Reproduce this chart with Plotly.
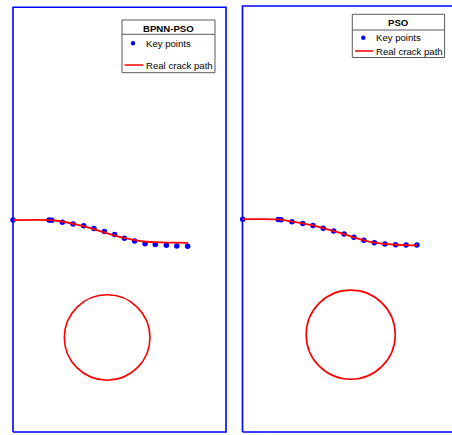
import plotly.graph_objects as go

W, H = 452, 435

# ---------------- data (plate units: width 100, height 200) ----------------
plate_x = [0, 100, 100, 0, 0]
plate_y = [0, 0, 200, 200, 0]

# BPNN-PSO panel
bp_key_x = [0, 16.9, 18.2, 23.2, 28.2, 33.2, 38.0, 42.9, 47.7, 52.3, 57.1, 62.0, 66.8, 72.0, 76.9, 82.0]
bp_key_y = [99.8, 99.8, 99.7, 98.8, 98.0, 97.1, 95.8, 94.4, 93.0, 91.2, 90.0, 88.7, 88.3, 88.0, 87.6, 87.5]
bp_path_x = [0, 16.9, 19.7, 24.4, 29.1, 33.8, 38.5, 43.2, 47.9, 52.6, 57.3, 62.0, 66.7, 71.4, 76.1, 82.2]
bp_path_y = [99.8, 99.8, 99.6, 98.9, 97.9, 96.7, 95.3, 93.9, 92.5, 91.3, 90.4, 89.7, 89.4, 89.2, 89.2, 89.1]
bp_hole = [44.2, 44.5, 20.1]   # centre x, centre y, radius

# PSO panel
pso_key_x = [0.1, 16.8, 18.1, 23.2, 28.3, 33.1, 37.9, 42.8, 47.7, 52.3, 57.0, 61.9, 66.9, 71.9, 76.8, 81.9]
pso_key_y = [99.9, 99.8, 99.6, 98.7, 97.9, 97.0, 95.7, 94.4, 93.0, 91.4, 90.0, 88.9, 88.3, 87.9, 87.8, 87.8]
pso_path_x = [0, 16.8, 23.2, 28.3, 33.1, 37.9, 42.8, 47.7, 52.3, 57.0, 61.9, 66.9, 71.9, 76.8, 82.0]
pso_path_y = [99.9, 99.8, 98.8, 97.9, 97.0, 95.7, 94.3, 92.9, 91.4, 90.0, 88.9, 88.3, 87.9, 87.7, 87.6]
pso_hole = [50.8, 45.7, 20.9]

panel_titles = ["BPNN-PSO", "PSO"]
legend_labels = ["Key points", "Real crack path"]

BLUE = "#0000FF"
RED = "#FF0000"
FONT = "Arial, Liberation Sans, sans-serif"
FS = 9.6

split = 234  # px where the two subplot domains meet


def px(x):
    return x / W


def py(y):
    return 1 - y / H


def axis_range(p0, p1, v0, v1, lo, hi):
    # pixel p0 <-> value v0, p1 <-> value v1; values at pixels lo, hi
    s = (p1 - p0) / (v1 - v0)
    return [v0 + (lo - p0) / s, v0 + (hi - p0) / s]


fig = go.Figure()

panels = [
    dict(kx=bp_key_x, ky=bp_key_y, lx=bp_path_x, ly=bp_path_y, hole=bp_hole, xa="x", ya="y"),
    dict(kx=pso_key_x, ky=pso_key_y, lx=pso_path_x, ly=pso_path_y, hole=pso_hole, xa="x2", ya="y2"),
]

shapes = []
for p in panels:
    fig.add_trace(go.Scatter(x=plate_x, y=plate_y, mode="lines",
                             line=dict(color=BLUE, width=1.6),
                             xaxis=p["xa"], yaxis=p["ya"], showlegend=False, hoverinfo="skip"))
    fig.add_trace(go.Scatter(x=p["kx"], y=p["ky"], mode="markers", name=legend_labels[0],
                             marker=dict(color=BLUE, size=5.5),
                             xaxis=p["xa"], yaxis=p["ya"], showlegend=False))
    fig.add_trace(go.Scatter(x=p["lx"], y=p["ly"], mode="lines", name=legend_labels[1],
                             line=dict(color=RED, width=1.8, shape="spline", smoothing=0.8),
                             xaxis=p["xa"], yaxis=p["ya"], showlegend=False))
    cx, cy, r = p["hole"]
    shapes.append(dict(type="circle", xref=p["xa"], yref=p["ya"],
                       x0=cx - r, x1=cx + r, y0=cy - r, y1=cy + r,
                       line=dict(color=RED, width=1.6)))

# manual legends (pixel boxes)
legend_boxes = [
    dict(x0=122, x1=215, y0=20, y1=72.7, title_y=28.4, sep=34.3, k_y=43.3, l_y=65,
         dot_x=133, line_x0=124.5, line_x1=143.3, text_x=143.5),
    dict(x0=352.3, x1=444.6, y0=14.3, y1=57.5, title_y=22.4, sep=30, k_y=37.7, l_y=51,
         dot_x=363.3, line_x0=355, line_x1=373.3, text_x=374.2),
]
annotations = []
for title, b in zip(panel_titles, legend_boxes):
    shapes.append(dict(type="rect", xref="paper", yref="paper",
                       x0=px(b["x0"]), x1=px(b["x1"]), y0=py(b["y1"]), y1=py(b["y0"]),
                       line=dict(color="#5a5a5a", width=1), fillcolor="white", layer="above"))
    shapes.append(dict(type="line", xref="paper", yref="paper",
                       x0=px(b["x0"]), x1=px(b["x1"]), y0=py(b["sep"]), y1=py(b["sep"]),
                       line=dict(color="#5a5a5a", width=1), layer="above"))
    shapes.append(dict(type="circle", xref="paper", yref="paper",
                       x0=px(b["dot_x"] - 2.2), x1=px(b["dot_x"] + 2.2),
                       y0=py(b["k_y"] + 2.2), y1=py(b["k_y"] - 2.2),
                       line=dict(color=BLUE, width=0), fillcolor=BLUE, layer="above"))
    shapes.append(dict(type="line", xref="paper", yref="paper",
                       x0=px(b["line_x0"]), x1=px(b["line_x1"]), y0=py(b["l_y"]), y1=py(b["l_y"]),
                       line=dict(color=RED, width=1.5), layer="above"))
    annotations.append(dict(text="<b>%s</b>" % title, xref="paper", yref="paper",
                            x=px((b["x0"] + b["x1"]) / 2), y=py(b["title_y"]),
                            xanchor="center", yanchor="middle", showarrow=False,
                            font=dict(family=FONT, size=FS, color="black")))
    for lab, yy in zip(legend_labels, [b["k_y"], b["l_y"]]):
        annotations.append(dict(text=lab, xref="paper", yref="paper",
                                x=px(b["text_x"]), y=py(yy), xanchor="left", yanchor="middle",
                                showarrow=False, font=dict(family=FONT, size=FS, color="black")))

hidden = dict(visible=False, showgrid=False, zeroline=False, fixedrange=True)

fig.update_layout(
    width=W, height=H,
    margin=dict(l=0, r=0, t=0, b=0),
    paper_bgcolor="white", plot_bgcolor="white",
    showlegend=False,
    xaxis=dict(domain=[0, px(split)], range=axis_range(13, 226, 0, 100, 0, split), **hidden),
    yaxis=dict(domain=[0, 1], range=axis_range(432, 7.3, 0, 200, H, 0), **hidden),
    xaxis2=dict(domain=[px(split), 1], range=axis_range(242.5, 455.5, 0, 100, split, W), **hidden),
    yaxis2=dict(domain=[0, 1], range=axis_range(432, 6, 0, 200, H, 0), **hidden),
    shapes=shapes,
    annotations=annotations,
)

fig.write_html(
    "out.html",
    config={"displayModeBar": False},
    post_script="document.body.style.margin='0px';document.body.style.overflow='hidden';",
)
